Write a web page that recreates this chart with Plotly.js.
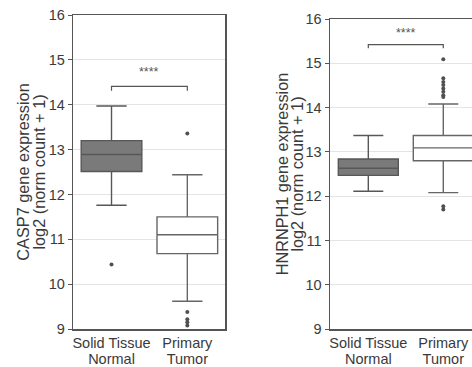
<!DOCTYPE html>
<html>
<head>
<meta charset="utf-8">
<script src="https://cdn.plot.ly/plotly-3.0.1.min.js"></script>
<style>
html,body{margin:0;padding:0;overflow:hidden;background:#fff;}
#chart{width:472px;height:367px;}
</style>
</head>
<body>
<div id="chart"></div>
<script>
// ---- data ----
const categories = ["Solid Tissue<br>Normal", "Primary<br>Tumor"];

// CASP7 (left panel): [Normal, Tumor]
const casp7_q1 = [12.51, 10.68];
const casp7_median = [12.89, 11.10];
const casp7_q3 = [13.20, 11.50];
const casp7_lowerfence = [11.76, 9.62];
const casp7_upperfence = [13.97, 12.44];
const casp7_outliers_normal = [10.44];
const casp7_outliers_tumor = [13.36, 9.38, 9.22, 9.15, 9.08];
const casp7_bracket = [14.31, 14.41];

// HNRNPH1 (right panel): [Normal, Tumor]
const hnrnph1_q1 = [12.47, 12.80];
const hnrnph1_median = [12.63, 13.09];
const hnrnph1_q3 = [12.84, 13.37];
const hnrnph1_lowerfence = [12.11, 12.08];
const hnrnph1_upperfence = [13.37, 14.08];
const hnrnph1_outliers_normal = [];
const hnrnph1_outliers_tumor = [15.09, 14.66, 14.58, 14.51, 14.43, 14.36, 14.28, 14.24, 11.77, 11.70];
const hnrnph1_bracket = [15.34, 15.42];

const sigLabel = "****";
const yTitles = ["CASP7 gene expression<br>log2 (norm count + 1)", "HNRNPH1 gene expression<br>log2 (norm count + 1)"];

// ---- styles ----
const fillColors = ["#7a7a7a", "#ffffff"];
const lineColors = ["#575757", "#666666"];
const axisColor = "#555555";
const FONT = "Liberation Sans, Arial, sans-serif";

function panel(q1, med, q3, lo, hi, outN, outT, bracket, xa, ya) {
  const tr = [];
  for (let i = 0; i < 2; i++) {
    tr.push({
      type: "box", x: [categories[i]], q1: [q1[i]], median: [med[i]], q3: [q3[i]],
      lowerfence: [lo[i]], upperfence: [hi[i]], boxpoints: false,
      fillcolor: fillColors[i], line: {color: lineColors[i], width: 1.4},
      width: 0.8, whiskerwidth: 0.5, xaxis: xa, yaxis: ya, hoverinfo: "skip", showlegend: false
    });
  }
  const outs = [outN, outT];
  for (let i = 0; i < 2; i++) {
    if (!outs[i].length) continue;
    tr.push({
      type: "scatter", mode: "markers", x: outs[i].map(() => categories[i]), y: outs[i],
      marker: {color: "#505050", size: 4}, xaxis: xa, yaxis: ya, showlegend: false, hoverinfo: "skip"
    });
  }
  tr.push({
    type: "scatter", mode: "lines",
    x: [categories[0], categories[0], categories[1], categories[1]],
    y: [bracket[0], bracket[1], bracket[1], bracket[0]],
    line: {color: "#555555", width: 1.2}, xaxis: xa, yaxis: ya, showlegend: false, hoverinfo: "skip"
  });
  return tr;
}

const traces = [].concat(
  panel(casp7_q1, casp7_median, casp7_q3, casp7_lowerfence, casp7_upperfence,
        casp7_outliers_normal, casp7_outliers_tumor, casp7_bracket, "x", "y"),
  panel(hnrnph1_q1, hnrnph1_median, hnrnph1_q3, hnrnph1_lowerfence, hnrnph1_upperfence,
        hnrnph1_outliers_normal, hnrnph1_outliers_tumor, hnrnph1_bracket, "x2", "y2")
);

const tickFont = {family: FONT, size: 14.5, color: "#3a3a3a"};
const titleFont = {family: FONT, size: 16.3, color: "#3a3a3a"};

function xaxis(domain, range, anchor) {
  return {
    domain: domain, range: range, anchor: anchor, type: "category",
    categoryorder: "array", categoryarray: categories,
    showline: true, mirror: true, linecolor: axisColor, linewidth: 1.5,
    ticks: "", showgrid: false, zeroline: false, tickfont: tickFont, fixedrange: true
  };
}
function yaxis(domain, anchor, title, mirror) {
  return {
    domain: domain, range: [9, 16], anchor: anchor, dtick: 1, tick0: 9,
    showline: true, mirror: mirror, linecolor: axisColor, linewidth: 1.5,
    ticks: "outside", ticklen: 4, tickcolor: axisColor, tickwidth: 1,
    showgrid: true, gridcolor: "#e4e4e4", gridwidth: 1, zeroline: false,
    tickfont: tickFont, title: {text: title, font: titleFont, standoff: 4}, fixedrange: true
  };
}

const layout = {
  width: 472, height: 367,
  margin: {l: 0, r: 0, t: 0, b: 0},
  paper_bgcolor: "#ffffff", plot_bgcolor: "#ffffff",
  showlegend: false,
  xaxis: xaxis([73.3/472, 225/472], [-0.504, 1.497], "y"),
  yaxis: yaxis([38/367, 352/367], "x", yTitles[0], true),
  xaxis2: xaxis([330/472, 1], [-0.511, 1.383], "y2"),
  yaxis2: yaxis([38/367, 348/367], "x2", yTitles[1], false),
  annotations: [
    {xref: "x", yref: "y", x: 0.5, y: 14.73, text: sigLabel, showarrow: false,
     font: {family: FONT, size: 12.5, color: "#555555"}},
    {xref: "x2", yref: "y2", x: 0.5, y: 15.69, text: sigLabel, showarrow: false,
     font: {family: FONT, size: 12.5, color: "#555555"}}
  ]
};

function tightenLines(sel, factor) {
  document.querySelectorAll(sel).forEach(function (t) {
    const dy = t.getAttribute("dy");
    if (dy && dy.indexOf("em") > 0) {
      const v = parseFloat(dy);
      if (v) t.setAttribute("dy", (v * factor).toFixed(3) + "em");
    }
  });
}

Plotly.newPlot("chart", traces, layout, {displayModeBar: false, staticPlot: true}).then(function () {
  // tighter line spacing for two-line category labels and y titles (as in reference)
  tightenLines(".xtick text tspan.line, .x2tick text tspan.line", 1.08 / 1.3);
  tightenLines(".g-ytitle text tspan.line, .g-y2title text tspan.line", 0.98 / 1.3);
  const targets = {".g-ytitle": 31, ".g-y2title": 289.5};
  const root = document.getElementById("chart").getBoundingClientRect();
  Object.keys(targets).forEach(function (sel) {
    const g = document.querySelector(sel);
    if (!g) return;
    const r = g.getBoundingClientRect();
    const cx = (r.left + r.right) / 2 - root.left;
    g.setAttribute("transform", "translate(" + (targets[sel] - cx).toFixed(1) + ",0)");
  });
});
</script>
</body>
</html>
